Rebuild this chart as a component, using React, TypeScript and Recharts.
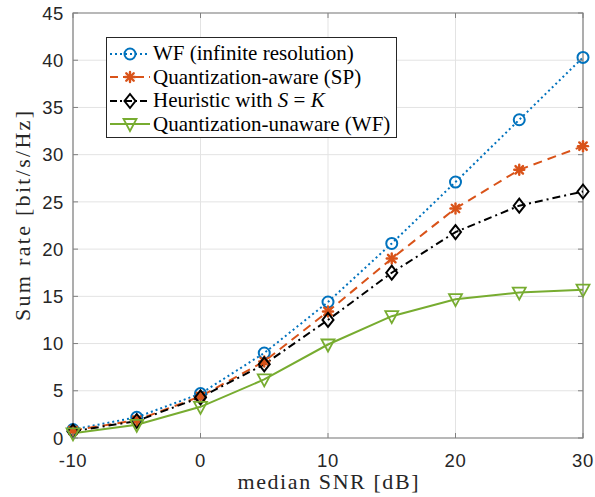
import React from 'react';
import { LineChart, Line, XAxis, YAxis, CartesianGrid, ReferenceArea } from 'recharts';

// median SNR [dB]
const snrDb = [-10, -5, 0, 5, 10, 15, 20, 25, 30];
// sum rates [bit/s/Hz]
const wfInfinite = [0.9, 2.2, 4.7, 9.0, 14.4, 20.6, 27.1, 33.7, 40.3];
const quantAware = [0.8, 1.9, 4.4, 8.1, 13.4, 19.0, 24.3, 28.4, 30.9];
const heuristic = [0.7, 1.8, 4.3, 7.8, 12.5, 17.5, 21.8, 24.6, 26.1];
const quantUnaware = [0.5, 1.4, 3.3, 6.2, 9.9, 12.9, 14.7, 15.4, 15.7];

const xTicks = [-10, 0, 10, 20, 30];
const yTicks = [0, 5, 10, 15, 20, 25, 30, 35, 40, 45];

const data = snrDb.map((snr, i) => ({
  snr,
  wf: wfInfinite[i],
  sp: quantAware[i],
  heur: heuristic[i],
  unaware: quantUnaware[i],
}));

const W = 595;
const H = 497;
const PLOT_L = 73;
const PLOT_R = 583;
const PLOT_T = 13;
const PLOT_B = 438;
const AXIS = '#808080';
const TXT = '#262626';
const TICK = 5;
const SANS = '"Liberation Sans", Arial, sans-serif';
const SERIF = '"Liberation Serif", "Times New Roman", serif';

const BLUE = '#0072BD';
const ORANGE = '#D95319';
const GREEN = '#77AC30';

const XTick = (props: any) => {
  const { x, payload } = props;
  return (
    <g>
      <line x1={x} x2={x} y1={PLOT_B} y2={PLOT_B - TICK} stroke={AXIS} />
      <line x1={x} x2={x} y1={PLOT_T} y2={PLOT_T + TICK} stroke={AXIS} />
      <text x={x} y={PLOT_B + 29} textAnchor="middle" fontFamily={SANS} fontSize={18.5} letterSpacing={0.6} fill={TXT}>
        {payload.value}
      </text>
    </g>
  );
};

const YTick = (props: any) => {
  const { y, payload } = props;
  return (
    <g>
      <line x1={PLOT_L} x2={PLOT_L + TICK} y1={y} y2={y} stroke={AXIS} />
      <line x1={PLOT_R} x2={PLOT_R - TICK} y1={y} y2={y} stroke={AXIS} />
      <text x={PLOT_L - 9} y={y} dy="0.36em" textAnchor="end" fontFamily={SANS} fontSize={18.5} letterSpacing={0.6} fill={TXT}>
        {payload.value}
      </text>
    </g>
  );
};

const Circle = ({ cx, cy }: any) => (
  <circle cx={cx} cy={cy} r={5.5} fill="none" stroke={BLUE} strokeWidth={2} />
);

const Star = ({ cx, cy }: any) => {
  const r = 5;
  const d = r * 0.75;
  return (
    <g stroke={ORANGE} strokeWidth={2.4} strokeLinecap="round">
      <line x1={cx - r} x2={cx + r} y1={cy} y2={cy} />
      <line x1={cx} x2={cx} y1={cy - r} y2={cy + r} />
      <line x1={cx - d} x2={cx + d} y1={cy - d} y2={cy + d} />
      <line x1={cx - d} x2={cx + d} y1={cy + d} y2={cy - d} />
    </g>
  );
};

const Diamond = ({ cx, cy }: any) => (
  <path
    d={`M${cx},${cy - 7} L${cx + 5.5},${cy} L${cx},${cy + 7} L${cx - 5.5},${cy} Z`}
    fill="none"
    stroke="#000"
    strokeWidth={2}
  />
);

const Triangle = ({ cx, cy }: any) => (
  <path
    d={`M${cx - 6.5},${cy - 5} L${cx + 6.5},${cy - 5} L${cx},${cy + 7} Z`}
    fill="none"
    stroke={GREEN}
    strokeWidth={1.8}
  />
);

const dotFn = (Shape: any) => (p: any) => <Shape key={`${p.dataKey}-${p.index}`} cx={p.cx} cy={p.cy} />;

const legendItems = [
  { name: 'WF (infinite resolution)', color: BLUE, dash: '2 3', Marker: Circle },
  { name: 'Quantization-aware (SP)', color: ORANGE, dash: '8 5', Marker: Star },
  { name: 'heur', color: '#000', dash: '7 3 2 3', Marker: Diamond },
  { name: 'Quantization-unaware (WF)', color: GREEN, dash: undefined, Marker: Triangle },
];

const LegendBox = () => (
  <div
    style={{
      position: 'absolute',
      left: 106,
      top: 37,
      width: 291,
      height: 101,
      border: `1px solid ${TXT}`,
      background: '#fff',
      paddingTop: 4,
      boxSizing: 'border-box',
    }}
  >
    {legendItems.map((it) => (
      <div key={it.name} style={{ display: 'flex', alignItems: 'center', height: 23.5 }}>
        <svg width={44} height={20} style={{ marginLeft: 1, flex: 'none' }}>
          <line x1={2} x2={42} y1={10} y2={10} stroke={it.color} strokeWidth={2} strokeDasharray={it.dash} />
          <it.Marker cx={22} cy={10} />
        </svg>
        <span style={{ fontFamily: SERIF, fontSize: 21, color: '#000', marginLeft: 1, whiteSpace: 'nowrap' }}>
          {it.name === 'heur' ? (
            <>
              Heuristic with <i>S</i> = <i>K</i>
            </>
          ) : (
            it.name
          )}
        </span>
      </div>
    ))}
  </div>
);

const YLabel = () => (
  <text
    x={30}
    y={216}
    transform="rotate(-90 30 216)"
    textAnchor="middle"
    fontFamily={SERIF}
    fontSize={22}
    textLength={210}
    lengthAdjust="spacing"
    fill={TXT}
  >
    Sum rate [bit/s/Hz]
  </text>
);

const XLabel = () => (
  <text
    x={(PLOT_L + PLOT_R) / 2}
    y={489}
    textAnchor="middle"
    fontFamily={SERIF}
    fontSize={22}
    textLength={181}
    lengthAdjust="spacing"
    fill={TXT}
  >
    median SNR [dB]
  </text>
);

export default function App() {
  return (
    <div style={{ position: 'absolute', left: 0, top: 0, width: W, height: H, background: '#fff' }}>
      <LineChart
        width={W}
        height={H}
        data={data}
        margin={{ top: PLOT_T, right: W - PLOT_R, left: 0, bottom: 0 }}
      >
        <CartesianGrid stroke="#e3e3e3" strokeWidth={1} />
        <XAxis
          dataKey="snr"
          type="number"
          domain={[-10, 30]}
          ticks={xTicks}
          height={H - PLOT_B}
          axisLine={false}
          tickLine={false}
          tickSize={0}
          tick={<XTick />}
          label={<XLabel />}
        />
        <YAxis
          type="number"
          domain={[0, 45]}
          ticks={yTicks}
          width={PLOT_L}
          axisLine={false}
          tickLine={false}
          tickSize={0}
          tick={<YTick />}
          label={<YLabel />}
        />
        <ReferenceArea x1={-10} x2={30} y1={0} y2={45} fill="none" stroke={AXIS} strokeWidth={1.2} />
        <Line dataKey="wf" stroke={BLUE} strokeWidth={2} strokeDasharray="2 3" dot={dotFn(Circle)} isAnimationActive={false} />
        <Line dataKey="sp" stroke={ORANGE} strokeWidth={2} strokeDasharray="9 6" dot={dotFn(Star)} isAnimationActive={false} />
        <Line dataKey="heur" stroke="#000" strokeWidth={2} strokeDasharray="8 4 2 4" dot={dotFn(Diamond)} isAnimationActive={false} />
        <Line dataKey="unaware" stroke={GREEN} strokeWidth={2} dot={dotFn(Triangle)} isAnimationActive={false} />
      </LineChart>
      <LegendBox />
    </div>
  );
}
